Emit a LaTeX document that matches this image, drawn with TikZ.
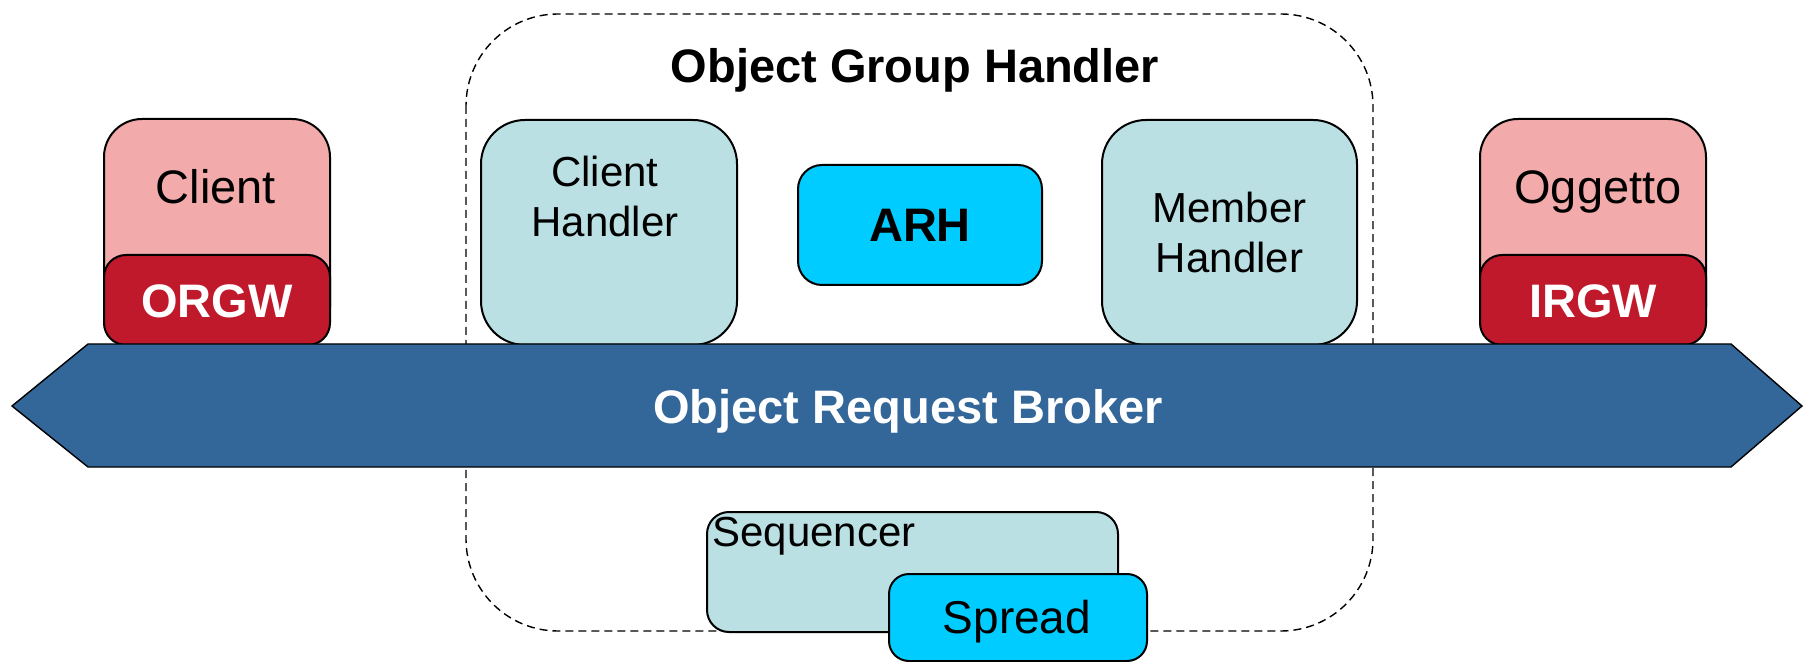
\documentclass[tikz,border=0pt]{standalone}
\usepackage{fontspec}
\setmainfont{Liberation Sans}
\definecolor{pinkbox}{HTML}{F2AAAA}
\definecolor{gwred}{HTML}{C0192C}
\definecolor{handlerfill}{HTML}{BAE0E3}
\definecolor{cyanfill}{HTML}{00CCFF}
\definecolor{orbblue}{HTML}{336699}
\begin{document}
\begin{tikzpicture}[x=0.5pt,y=-0.5pt,
  box/.style={draw=black, line width=1pt, rounded corners=#1, inner sep=0pt, anchor=north west},
  bigtext/.style={font=\fontsize{23.5}{28}\selectfont},
  boldtext/.style={font=\fontsize{23.5}{28}\selectfont\bfseries},
  smalltext/.style={font=\fontsize{21}{25}\selectfont, align=center}]
\useasboundingbox (0,0) rectangle (1809,662);

% Object group handler frame
\draw[dashed, dash pattern=on 4pt off 2.5pt, line width=0.7pt, rounded corners=46pt]
  (466,14) rectangle (1373,631);
\node[boldtext] (title) at (915,70) {Object Group Handler};

% Client with its outgoing gateway
\node[box=19pt, fill=pinkbox, minimum width=113pt, minimum height=113pt] (client) at (103,118) {};
\node[box=11pt, fill=gwred, minimum width=113pt, minimum height=45pt] (orgw) at (103,254) {};
\node[bigtext] (clienttext) at (216,187) {Client};
\node[boldtext, text=white] at ([yshift=-0.5pt]orgw.center) {ORGW};

% Server object with its incoming gateway
\node[box=19pt, fill=pinkbox, minimum width=113pt, minimum height=113pt] (oggetto) at (1479,118) {};
\node[box=11pt, fill=gwred, minimum width=113pt, minimum height=45pt] (irgw) at (1479,254) {};
\node[bigtext] (oggettotext) at (1598,192) {Oggetto};
\node[boldtext, text=white] at ([yshift=-0.5pt]irgw.center) {IRGW};

% Handlers
\node[box=22pt, fill=handlerfill, minimum width=128pt, minimum height=112.5pt] (chandler) at (480,119) {};
\node[smalltext] (chtext) at (605,196) {Client\\Handler};
\node[box=12pt, fill=cyanfill, minimum width=122pt, minimum height=60pt, boldtext] (arh) at (797,164) {ARH};
\node[box=22pt, fill=handlerfill, minimum width=127.5pt, minimum height=112.5pt, smalltext] (mhandler) at (1101,119) {Member\\Handler};

% Object request broker
\draw[fill=orbblue, draw=black, line width=0.7pt]
  (12,406) -- (88,344) -- (1731,344) -- (1802,406) -- (1731,467) -- (88,467) -- cycle;
\node[boldtext, text=white] (orb) at (908,411) {Object Request Broker};

% Sequencer and Spread
\node[box=11pt, fill=handlerfill, minimum width=205.5pt, minimum height=60pt] (seq) at (706,511) {};
\node[smalltext, anchor=west, inner sep=0pt] (seqtext) at (712,536) {Sequencer};
\node[box=10pt, fill=cyanfill, minimum width=129pt, minimum height=43.5pt] (spread) at (888,573) {};
\node[font=\fontsize{23}{28}\selectfont] (spreadtext) at (1017,622) {Spread};
\end{tikzpicture}
\end{document}
